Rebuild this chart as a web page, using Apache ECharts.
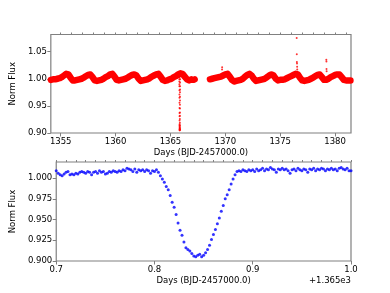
<!DOCTYPE html>
<html><head><meta charset="utf-8">
<script src="https://cdn.jsdelivr.net/npm/echarts@6/dist/echarts.min.js"></script>
<style>html,body{margin:0;padding:0;background:#fff}#c{width:390px;height:293px}</style>
</head><body><div id="c"></div>
<script>
// ---- Data ----
const segAStart = 1354.1, segBStart = 1368.6, cadenceTop = 0.1;
const segAFlux = [
0.998,0.998,0.999,0.998,0.999,0.999,1.000,1.000,1.001,1.002,
1.003,1.004,1.006,1.007,1.009,1.010,1.008,1.005,1.002,0.999,
0.997,0.996,0.997,0.997,0.998,0.998,0.999,0.999,1.000,1.001,
1.002,1.004,1.005,1.006,1.007,1.008,1.008,1.006,1.003,1.000,
0.997,0.996,0.996,0.997,0.997,0.998,0.998,0.999,1.000,1.001,
1.003,1.004,1.005,1.007,1.008,1.009,1.009,1.007,1.004,1.001,
0.998,0.997,0.997,0.998,0.998,0.998,0.999,0.999,1.000,1.001,
1.002,1.004,1.005,1.006,1.007,1.008,1.008,1.008,1.006,1.003,
1.000,0.997,0.996,0.997,0.997,0.998,0.998,0.999,0.999,1.000,
1.001,1.002,1.004,1.005,1.006,1.007,1.008,1.009,1.009,1.007,
1.004,1.001,0.998,0.997,0.996,0.997,0.997,0.998,0.999,0.999,
1.000,1.001,1.003,1.004,1.005,1.007,1.008,1.009,1.010,1.010,
1.009,1.007,1.004,1.001,0.999,0.998,0.997,0.998,0.999,0.998,
0.998,0.999];
const segBFlux = [
0.999,1.000,1.000,1.001,1.001,1.002,1.002,1.003,1.003,1.004,
1.004,1.005,1.006,1.007,1.008,1.009,1.009,1.007,1.004,1.001,
0.998,0.996,0.995,0.995,0.996,0.996,0.997,0.997,0.998,0.999,
1.000,1.002,1.004,1.006,1.007,1.008,1.009,1.009,1.006,1.003,
1.000,0.997,0.996,0.996,0.997,0.997,0.998,0.998,0.999,0.999,
1.000,1.002,1.003,1.005,1.006,1.007,1.008,1.008,1.006,1.003,
1.000,0.998,0.997,0.997,0.998,0.998,0.998,0.999,0.999,1.000,
1.001,1.002,1.003,1.004,1.005,1.006,1.007,1.008,1.009,1.010,
1.008,1.005,1.002,0.999,0.997,0.996,0.996,0.997,0.997,0.998,
0.998,0.999,1.000,1.001,1.002,1.003,1.005,1.006,1.007,1.008,
1.008,1.006,1.003,1.000,0.998,0.997,0.998,0.999,1.000,1.002,
1.003,1.004,1.005,1.006,1.007,1.008,1.008,1.009,1.008,1.006,
1.003,1.000,0.998,0.997,0.997,0.996,0.997,0.996,0.997];
const spikeTimes = [1369.70,1369.71,1376.50,1376.51,1376.52,1376.53,1376.54,1376.55,1379.20,1379.21,1379.22,1379.23];
const spikeFlux  = [1.017,1.021,1.075,1.045,1.031,1.028,1.022,1.017,1.035,1.032,1.018,1.014];

const zoomStart = 1365.7, cadenceZoom = 0.002;
const zoomFlux = [
1.009,1.006,1.004,1.003,1.005,1.007,1.008,1.004,1.005,1.004,
1.006,1.005,1.007,1.008,1.007,1.006,1.008,1.007,1.004,1.007,
1.008,1.006,1.009,1.007,1.008,1.005,1.006,1.008,1.007,1.009,
1.008,1.007,1.009,1.008,1.010,1.009,1.012,1.011,1.010,1.008,
1.011,1.007,1.010,1.009,1.010,1.008,1.010,1.009,1.006,1.009,
1.008,1.010,1.007,1.003,0.999,0.995,0.990,0.986,0.979,0.971,
0.965,0.956,0.946,0.937,0.931,0.923,0.916,0.914,0.912,0.909,
0.906,0.905,0.907,0.908,0.905,0.907,0.910,0.914,0.919,0.926,
0.932,0.938,0.945,0.952,0.960,0.967,0.975,0.980,0.986,0.993,
0.999,1.004,1.008,1.009,1.008,1.010,1.009,1.008,1.010,1.009,
1.010,1.008,1.011,1.009,1.010,1.012,1.009,1.011,1.010,1.013,
1.011,1.010,1.007,1.011,1.010,1.012,1.010,1.011,1.009,1.006,
1.010,1.011,1.009,1.012,1.010,1.009,1.011,1.010,1.007,1.011,
1.010,1.012,1.009,1.011,1.010,1.012,1.011,1.009,1.011,1.010,
1.012,1.010,1.011,1.009,1.012,1.013,1.011,1.010,1.012,1.009,
1.009];

const topXTicks = [1355,1360,1365,1370,1375,1380];
const topXMinor = [1355,1356,1357,1358,1359,1360,1361,1362,1363,1364,1365,1366,1367,1368,1369,1370,1371,1372,1373,1374,1375,1376,1377,1378,1379,1380,1381];
const topYTicks = [0.90,0.95,1.00,1.05];
const botXTicks = [1365.7,1365.8,1365.9,1366.0];
const botXMinor = [1365.70,1365.71,1365.72,1365.73,1365.74,1365.75,1365.76,1365.77,1365.78,1365.79,1365.80,1365.81,1365.82,1365.83,1365.84,1365.85,1365.86,1365.87,1365.88,1365.89,1365.90,1365.91,1365.92,1365.93,1365.94,1365.95,1365.96,1365.97,1365.98,1365.99,1366.00];
const botYTicks = [0.900,0.925,0.950,0.975,1.000];

// ---- Build ----
const pairs = (start, step, arr) => arr.map((v, i) => [+(start + i * step).toFixed(4), v]);
const segA = pairs(segAStart, cadenceTop, segAFlux);
const segB = pairs(segBStart, cadenceTop, segBFlux);
const zoomPts = pairs(zoomStart, cadenceZoom, zoomFlux);
const spikes = spikeTimes.map((t, i) => [t, spikeFlux[i]]);

const FF = 'DejaVu Sans', FS = 8.5, AX = '#808080';
const lbl = (vals, fmt, margin) => ({customValues: vals, formatter: fmt, margin: margin, fontFamily: FF, fontSize: FS, color: '#000'});
const tick = (vals, len) => ({show: true, customValues: vals, length: len, lineStyle: {color: AX, width: 1}});

const chart = echarts.init(document.getElementById('c'), null, {renderer: 'canvas'});
chart.setOption({
  animation: false,
  backgroundColor: '#fff',
  grid: [
    {left: 48.5, top: 34.5, width: 302.5, height: 98.5, show: true, borderColor: AX, borderWidth: 1.2, backgroundColor: 'transparent'},
    {left: 49, top: 162, width: 302, height: 99, show: true, borderColor: AX, borderWidth: 1.2, backgroundColor: 'transparent'}
  ],
  xAxis: [
    {gridIndex: 0, type: 'value', min: 1354.1, max: 1381.45, axisLine: {show: false}, splitLine: {show: false},
     axisTick: tick(topXTicks, 3.5), axisLabel: lbl(topXTicks, v => String(Math.round(v)), 4),
     name: 'Days (BJD-2457000.0)', nameLocation: 'middle', nameGap: 15.5, nameTextStyle: {fontFamily: FF, fontSize: FS, color: '#000'}},
    {gridIndex: 0, type: 'value', min: 1354.1, max: 1381.45, axisLine: {show: false}, splitLine: {show: false},
     axisTick: tick(topXMinor, 2), axisLabel: {show: false}},
    {gridIndex: 1, type: 'value', min: 1365.7, max: 1366.0, axisLine: {show: false}, splitLine: {show: false},
     axisTick: tick(botXTicks, 3.5), axisLabel: lbl(botXTicks, v => (v - 1365).toFixed(1), 4),
     name: 'Days (BJD-2457000.0)', nameLocation: 'middle', nameGap: 15, nameTextStyle: {fontFamily: FF, fontSize: FS, color: '#000'}},
    {gridIndex: 1, type: 'value', min: 1365.7, max: 1366.0, axisLine: {show: false}, splitLine: {show: false},
     axisTick: tick(botXMinor, 2), axisLabel: {show: false}}
  ],
  yAxis: [
    {gridIndex: 0, type: 'value', min: 0.9, max: 1.0816, axisLine: {show: false}, splitLine: {show: false},
     axisTick: tick(topYTicks, 3.5), axisLabel: lbl(topYTicks, v => v.toFixed(2), 4),
     name: 'Norm Flux', nameLocation: 'middle', nameGap: 27.5, nameRotate: 90, nameTextStyle: {fontFamily: FF, fontSize: FS, color: '#000'}},
    {gridIndex: 1, type: 'value', min: 0.9, max: 1.0195, axisLine: {show: false}, splitLine: {show: false},
     axisTick: tick(botYTicks, 3.5), axisLabel: lbl(botYTicks, v => v.toFixed(3), 4),
     name: 'Norm Flux', nameLocation: 'middle', nameGap: 32.5, nameRotate: 90, nameTextStyle: {fontFamily: FF, fontSize: FS, color: '#000'}}
  ],
  graphic: [
    {type: 'text', right: 39, top: 276.5, style: {text: '+1.365e3', font: FS + 'px "DejaVu Sans"', fill: '#000', textAlign: 'right'}}
  ],
  series: [
    {type: 'line', xAxisIndex: 0, yAxisIndex: 0, data: segA, showSymbol: false, lineStyle: {color: '#ff0000', width: 6.5, cap: 'round', join: 'round'}},
    {type: 'line', xAxisIndex: 0, yAxisIndex: 0, data: segB, showSymbol: false, lineStyle: {color: '#ff0000', width: 6.5, cap: 'round', join: 'round'}},
    {type: 'scatter', xAxisIndex: 0, yAxisIndex: 0, data: zoomPts, symbolSize: 2, itemStyle: {color: '#ff0000'}},
    {type: 'scatter', xAxisIndex: 0, yAxisIndex: 0, data: spikes, symbolSize: 2, itemStyle: {color: '#ff0000'}},
    {type: 'scatter', xAxisIndex: 2, yAxisIndex: 1, data: zoomPts, symbolSize: 3, itemStyle: {color: '#0000ff'}}
  ]
});
</script></body></html>
